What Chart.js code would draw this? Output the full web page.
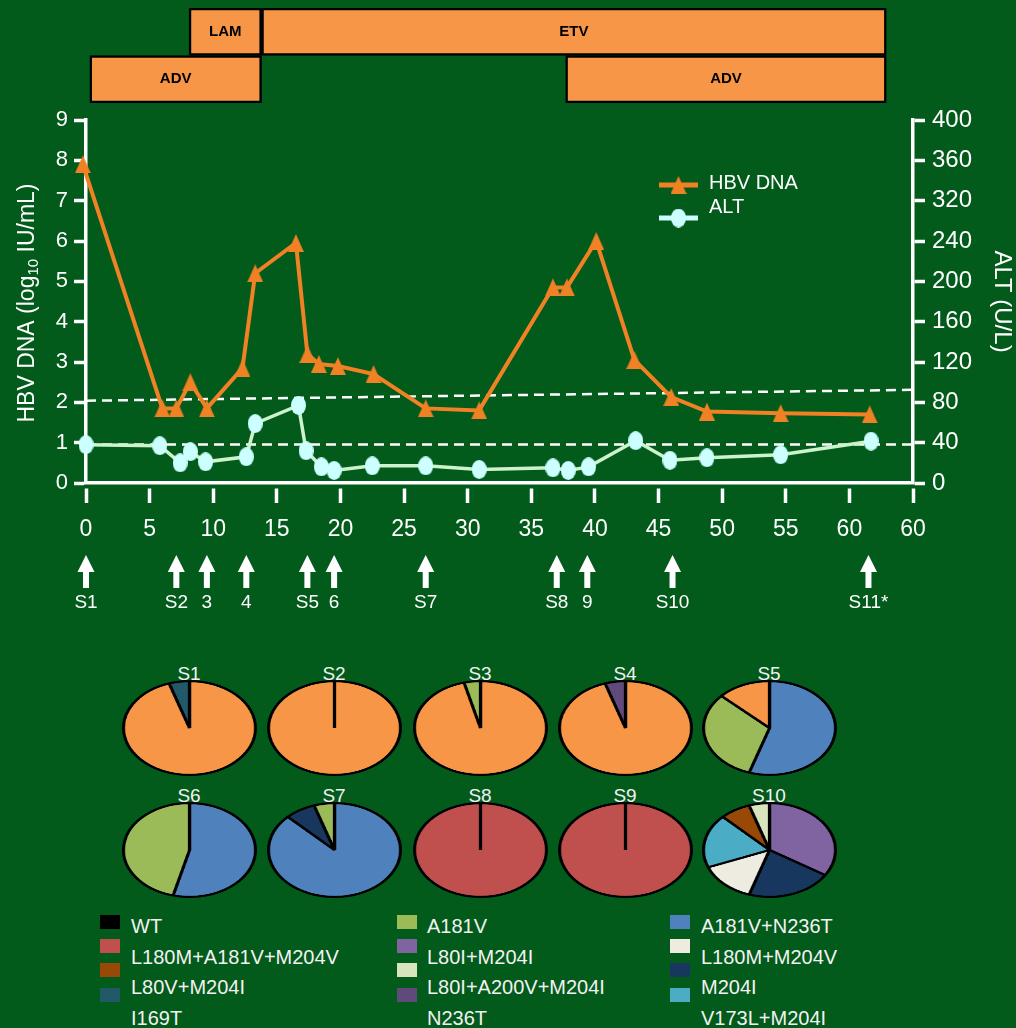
<!DOCTYPE html>
<html>
<head>
<meta charset="utf-8">
<script src="https://cdn.jsdelivr.net/npm/chart.js@4.4.1/dist/chart.umd.min.js"></script>
<style>
  html, body { margin: 0; padding: 0; background: #025a1b; }
  #page { position: relative; width: 1016px; height: 1028px; overflow: hidden;
          font-family: "Liberation Sans", Arial, sans-serif; color: #f2f2f2; }
  canvas { position: absolute; }
  .pieTitle { position: absolute; width: 80px; margin-left: -40px; text-align: center;
              font-size: 19px; line-height: 20px; }
  .swatch { position: absolute; width: 20px; height: 14px; }
  .legText { position: absolute; font-size: 20px; line-height: 22px; white-space: nowrap; }
</style>
</head>
<body>
<div id="page">
  <canvas id="mainChart" width="1016" height="620" style="left:0;top:0"></canvas>
  <canvas id="regimenChart" width="1016" height="110" style="left:0;top:0"></canvas>
</div>
<script>
// ---------- data ----------
// months since start
const hbvMonths = [-0.25, 6.0, 7.1, 8.2, 9.5, 12.3, 13.3, 16.5, 17.4, 18.3, 19.8, 22.6, 26.7, 30.9, 36.7, 37.8, 40.1, 43.1, 46.0, 48.8, 54.6, 61.6];
const hbvLog    = [7.9, 1.85, 1.85, 2.5, 1.85, 2.85, 5.2, 5.95, 3.2, 2.95, 2.9, 2.7, 1.85, 1.8, 4.85, 4.85, 6.0, 3.05, 2.13, 1.77, 1.73, 1.7];

const altMonths = [0, 5.8, 7.4, 8.2, 9.4, 12.6, 13.3, 16.7, 17.3, 18.5, 19.5, 22.5, 26.7, 30.9, 36.7, 37.9, 39.5, 43.2, 45.9, 48.8, 54.6, 61.7];
const altValues = [38, 37, 20, 31, 21, 26, 59, 77, 32, 16, 12.5, 17, 17, 13.5, 15, 12.5, 16, 42, 22.5, 25, 28, 41.5];

// dashed cut-off lines
const cutoffX      = [0, 65];
const dnaCutoff    = [2.04, 2.31];   // log10 IU/mL
const altCutoff    = [38.3, 38.3];   // U/L

const xTickLabels  = ['0', '5', '10', '15', '20', '25', '30', '35', '40', '45', '50', '55', '60', '60'];
const altTickLabels = ['0', '40', '80', '120', '160', '200', '240', '320', '360', '400'];

// sampling time points (arrows)
const sampleTimes  = [0, 7.1, 9.5, 12.6, 17.4, 19.5, 26.7, 37.0, 39.4, 46.1, 61.5];
const sampleLabels = ['S1', 'S2', '3', '4', 'S5', '6', 'S7', 'S8', '9', 'S10', 'S11*'];

// treatment periods
const regimenNames = ['LAM', 'ETV', 'ADV', 'ADV'];
const regimenStart = [8.1, 13.8, 0.3, 37.7];
const regimenEnd   = [13.8, 62.9, 13.8, 62.9];
const regimenRow   = [0, 0, 1, 1];
const regimenRowLabels = ['nucleoside', 'nucleotide'];

// quasispecies pies (%)
const pieSamples = ['S1', 'S2', 'S3', 'S4', 'S5', 'S6', 'S7', 'S8', 'S9', 'S10'];
const pieValues = [
  [95, 5],
  [100],
  [96, 4],
  [95, 5],
  [55, 32, 13],
  [54, 46],
  [87.5, 7.5, 5],
  [100],
  [100],
  [34, 21, 14, 18.5, 7.5, 5]
];

// legend of mutation patterns
const mutNames = ['WT', 'L180M+A181V+M204V', 'L80V+M204I', 'I169T',
                  'A181V', 'L80I+M204I', 'L80I+A200V+M204I', 'N236T',
                  'A181V+N236T', 'L180M+M204V', 'M204I', 'V173L+M204I'];

// ---------- styles ----------
const C = {
  orange: '#F79646', black: '#000000', red: '#C0504D', brown: '#984807', teal: '#215968',
  green: '#9BBB59', purple: '#8064A2', pale: '#D7E4BD', dpurple: '#604A7B',
  blue: '#4F81BD', offwhite: '#EEECE1', navy: '#17375E', cyan: '#4BACC6'
};
const mutColors = [C.black, C.red, C.brown, C.teal, C.green, C.purple, C.pale, C.dpurple,
                   C.blue, C.offwhite, C.navy, C.cyan];
const pieColors = [
  [C.orange, C.teal],
  [C.orange],
  [C.orange, C.green],
  [C.orange, C.dpurple],
  [C.blue, C.green, C.orange],
  [C.blue, C.green],
  [C.blue, C.navy, C.green],
  [C.red],
  [C.red],
  [C.purple, C.navy, C.offwhite, C.cyan, C.brown, C.pale]
];

const dnaColor = '#F08124';
const altLineColor = '#CDF3CC';
const altMarkColor = '#CCFFFF';
const FONT = '"Liberation Sans", Arial, sans-serif';
Chart.defaults.font.family = FONT;
Chart.defaults.color = '#ffffff';

function makeTriangle(w, h, color) {
  const c = document.createElement('canvas');
  c.width = w; c.height = h;
  const g = c.getContext('2d');
  g.fillStyle = color;
  g.beginPath(); g.moveTo(w / 2, 0); g.lineTo(w, h); g.lineTo(0, h); g.closePath(); g.fill();
  return c;
}
function makeEllipse(w, h, color) {
  const c = document.createElement('canvas');
  c.width = w; c.height = h;
  const g = c.getContext('2d');
  g.fillStyle = color;
  g.beginPath(); g.ellipse(w / 2, h / 2, w / 2, h / 2, 0, 0, Math.PI * 2); g.fill();
  return c;
}
const triMark = makeTriangle(16, 18, dnaColor);
const ellMark = makeEllipse(15, 19, altMarkColor);

// ---------- main line chart ----------
const overlay = {
  id: 'overlay',
  afterDraw(chart) {
    const ctx = chart.ctx;
    const xs = chart.scales.x;
    ctx.save();
    ctx.fillStyle = '#ffffff';

    // left axis title with subscript
    ctx.translate(28, 303);
    ctx.rotate(-Math.PI / 2);
    const p1 = 'HBV DNA (log', sub = '10', p2 = ' IU/mL)';
    ctx.font = '23px ' + FONT;
    const w1 = ctx.measureText(p1).width, w2 = ctx.measureText(p2).width;
    ctx.font = '15px ' + FONT;
    const ws = ctx.measureText(sub).width;
    let sx = -(w1 + ws + w2) / 2;
    ctx.textBaseline = 'middle';
    ctx.textAlign = 'left';
    ctx.font = '23px ' + FONT;
    ctx.fillText(p1, sx, 0);
    ctx.font = '15px ' + FONT;
    ctx.fillText(sub, sx + w1, 6);
    ctx.font = '23px ' + FONT;
    ctx.fillText(p2, sx + w1 + ws, 0);
    ctx.restore();

    // legend
    ctx.save();
    ctx.lineWidth = 5;
    ctx.strokeStyle = dnaColor;
    ctx.beginPath(); ctx.moveTo(659, 185); ctx.lineTo(698, 185); ctx.stroke();
    ctx.drawImage(triMark, 678.5 - 8, 185 - 9);
    ctx.strokeStyle = altMarkColor;
    ctx.beginPath(); ctx.moveTo(659, 218); ctx.lineTo(698, 218); ctx.stroke();
    ctx.drawImage(ellMark, 678.5 - 7.5, 218 - 9.5);
    ctx.fillStyle = '#ffffff';
    ctx.font = '20px ' + FONT;
    ctx.textBaseline = 'middle';
    ctx.fillText('HBV DNA', 709, 183);
    ctx.fillText('ALT', 709, 207);

    // sampling arrows
    ctx.textAlign = 'center';
    ctx.font = '19px ' + FONT;
    sampleTimes.forEach((t, i) => {
      const px = xs.getPixelForValue(t);
      ctx.beginPath();
      ctx.moveTo(px, 555); ctx.lineTo(px + 8.5, 572); ctx.lineTo(px - 8.5, 572); ctx.closePath();
      ctx.fill();
      ctx.fillRect(px - 3, 571, 6, 17);
      ctx.fillText(sampleLabels[i], px, 603);
    });
    ctx.restore();
  }
};

new Chart(document.getElementById('mainChart'), {
  type: 'line',
  data: {
    datasets: [
      {
        label: 'HBV DNA',
        data: hbvMonths.map((m, i) => ({ x: m, y: hbvLog[i] })),
        yAxisID: 'y',
        borderColor: dnaColor,
        borderWidth: 4,
        pointStyle: triMark,
        pointRadius: 9,
        clip: false,
        order: 1
      },
      {
        label: 'ALT',
        data: altMonths.map((m, i) => ({ x: m, y: altValues[i] })),
        yAxisID: 'y2',
        borderColor: altLineColor,
        borderWidth: 3.5,
        pointStyle: ellMark,
        pointRadius: 9,
        clip: false,
        order: 2
      },
      {
        label: 'DNA cut-off',
        data: cutoffX.map((m, i) => ({ x: m, y: dnaCutoff[i] })),
        yAxisID: 'y',
        borderColor: '#ffffff',
        borderWidth: 2.5,
        borderDash: [10, 6],
        pointRadius: 0,
        order: 3
      },
      {
        label: 'ALT ULN',
        data: cutoffX.map((m, i) => ({ x: m, y: altCutoff[i] })),
        yAxisID: 'y2',
        borderColor: '#ffffff',
        borderWidth: 2.5,
        borderDash: [10, 6],
        pointRadius: 0,
        order: 3
      }
    ]
  },
  options: {
    responsive: false,
    animation: false,
    events: [],
    layout: { padding: { top: 120, left: 0, right: 0, bottom: 0 } },
    plugins: { legend: { display: false }, tooltip: { enabled: false } },
    scales: {
      x: {
        type: 'linear', min: 0, max: 65,
        afterFit: s => { s.height = 137; },
        border: { display: true, color: '#ffffff', width: 3.5 },
        grid: { drawOnChartArea: false, drawTicks: true, tickLength: 20, tickWidth: 3.5,
                tickColor: '#ffffff', tickBorderDash: [0, 4, 16, 10] },
        ticks: { stepSize: 5, color: '#ffffff', font: { size: 23 }, padding: 13,
                 maxRotation: 0, autoSkip: false, callback: (v, i) => xTickLabels[i] }
      },
      y: {
        position: 'left', min: 0, max: 9,
        afterFit: s => { s.width = 86; },
        border: { display: true, color: '#ffffff', width: 3.5 },
        grid: { drawOnChartArea: false, tickLength: 12, tickWidth: 3.5, tickColor: '#ffffff' },
        ticks: { stepSize: 1, color: '#ffffff', font: { size: 22 }, padding: 6 }
      },
      y2: {
        position: 'right', min: 0, max: 360,
        afterFit: s => { s.width = 103; },
        border: { display: true, color: '#ffffff', width: 3.5 },
        grid: { drawOnChartArea: false, tickLength: 12, tickWidth: 3.5, tickColor: '#ffffff' },
        ticks: { stepSize: 40, color: '#ffffff', font: { size: 24 }, padding: 7,
                 callback: (v, i) => altTickLabels[i] },
        title: { display: true, text: 'ALT (U/L)', color: '#ffffff', font: { size: 24 },
                 padding: { top: 0, bottom: 0 } }
      }
    }
  },
  plugins: [overlay]
});

// ---------- treatment bars ----------
const regimenText = {
  id: 'regimenText',
  afterDatasetsDraw(chart) {
    const ctx = chart.ctx;
    ctx.save();
    ctx.fillStyle = '#000000';
    ctx.font = 'bold 15px ' + FONT;
    ctx.textAlign = 'center';
    ctx.textBaseline = 'middle';
    chart.data.datasets.forEach((ds, i) => {
      chart.getDatasetMeta(i).data.forEach((el, j) => {
        if (ds.data[j] == null) return;
        const p = el.getCenterPoint();
        ctx.fillText(ds.label, p.x, p.y);
      });
    });
    ctx.restore();
  }
};

new Chart(document.getElementById('regimenChart'), {
  type: 'bar',
  data: {
    labels: regimenRowLabels,
    datasets: regimenNames.map((name, i) => ({
      label: name,
      data: regimenRowLabels.map((r, j) => j === regimenRow[i] ? [regimenStart[i], regimenEnd[i]] : null),
      backgroundColor: C.orange,
      borderColor: '#000000',
      borderWidth: 2.5,
      borderSkipped: false,
      grouped: false,
      categoryPercentage: 1,
      barPercentage: 1
    }))
  },
  options: {
    indexAxis: 'y',
    responsive: false,
    animation: false,
    events: [],
    layout: { padding: { left: 86, right: 103, top: 8, bottom: 7 } },
    plugins: { legend: { display: false }, tooltip: { enabled: false } },
    scales: {
      x: { type: 'linear', min: 0, max: 65, display: false },
      y: { display: false }
    }
  },
  plugins: [regimenText]
});

// ---------- pies ----------
const page = document.getElementById('page');
const pieColX = [189, 334, 480, 625, 769];
const pieRowY = [728, 850];

pieSamples.forEach((name, i) => {
  const cx = pieColX[i % 5], cy = pieRowY[Math.floor(i / 5)];
  const t = document.createElement('div');
  t.className = 'pieTitle';
  t.textContent = name;
  t.style.left = cx + 'px';
  t.style.top = (cy - 64) + 'px';
  page.appendChild(t);

  const cv = document.createElement('canvas');
  cv.width = 200; cv.height = 200;
  cv.style.left = (cx - 67.5) + 'px';
  cv.style.top = (cy - 48) + 'px';
  cv.style.width = '135px';
  cv.style.height = '96px';
  page.appendChild(cv);

  new Chart(cv, {
    type: 'pie',
    data: {
      labels: pieValues[i].map((v, k) => name + '-' + k),
      datasets: [{
        data: pieValues[i],
        backgroundColor: pieColors[i],
        borderColor: '#000000',
        borderWidth: 4.5,
        hoverOffset: 0,
        hoverBorderWidth: 4.5
      }]
    },
    options: {
      responsive: false,
      animation: false,
      events: [],
      plugins: { legend: { display: false }, tooltip: { enabled: false } }
    }
  });
});

// ---------- mutation legend ----------
const swatchX = [100, 397, 670];
const textX = [131, 427, 701];
const swatchY = [915, 939, 963, 988];
const textY = [926, 957, 987, 1017.5];

mutNames.forEach((name, i) => {
  const col = Math.floor(i / 4), row = i % 4;
  const s = document.createElement('div');
  s.className = 'swatch';
  s.style.left = swatchX[col] + 'px';
  s.style.top = swatchY[row] + 'px';
  s.style.background = mutColors[i];
  page.appendChild(s);

  const t = document.createElement('div');
  t.className = 'legText';
  t.textContent = name;
  t.style.left = textX[col] + 'px';
  t.style.top = (textY[row] - 11) + 'px';
  page.appendChild(t);
});
</script>
</body>
</html>
